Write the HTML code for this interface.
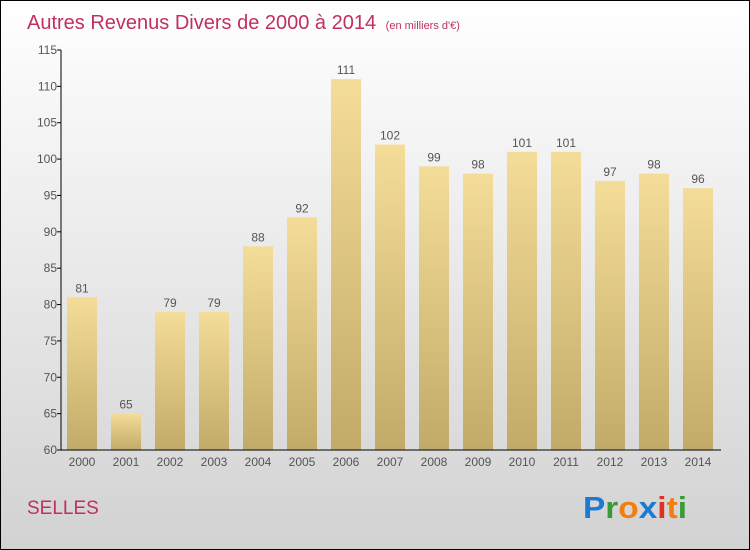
<!DOCTYPE html>
<html><head><meta charset="utf-8"><style>
body{margin:0}
#c{width:750px;height:550px;position:relative;overflow:hidden;font-family:"Liberation Sans",sans-serif}
</style></head><body>
<div id="c">
<svg width="750" height="550" id="svg">
<defs>
<linearGradient id="bg" x1="0" y1="0" x2="0" y2="1"><stop offset="0" stop-color="#ffffff"/><stop offset="1" stop-color="#d2d2d2"/></linearGradient>
<linearGradient id="bar" x1="0" y1="0" x2="0" y2="1"><stop offset="0" stop-color="#f4dd98"/><stop offset="1" stop-color="#c2aa68"/></linearGradient>
</defs>
<rect x="0.5" y="0.5" width="749" height="549" fill="url(#bg)" stroke="#000"/>
<text x="27" y="29" font-size="20" fill="#c0305f">Autres Revenus Divers de 2000 à 2014 <tspan font-size="11" dx="4">(en milliers d'€)</tspan></text>
<text x="27" y="514" font-size="19" fill="#c0305f">SELLES</text>
<g font-size="31" font-weight="bold" font-family="'Liberation Sans',sans-serif">
<text x="583" y="518" textLength="104" lengthAdjust="spacingAndGlyphs"><tspan fill="#1a7ad4">P</tspan><tspan fill="#3a9a3a">r</tspan><tspan fill="#f07e10">o</tspan><tspan fill="#1a7ad4">x</tspan><tspan fill="#e03020">i</tspan><tspan fill="#f07e10">t</tspan><tspan fill="#3a9a3a">i</tspan></text>
</g>
<g id="plot"></g>
</svg>
</div>
<script>
const years=["2000","2001","2002","2003","2004","2005","2006","2007","2008","2009","2010","2011","2012","2013","2014"];
const values=[81,65,79,79,88,92,111,102,99,98,101,101,97,98,96];
const yTicks=[60,65,70,75,80,85,90,95,100,105,110,115];
const NS="http://www.w3.org/2000/svg";
const g=document.getElementById('plot');
const y0=450,y1=50,vmin=60,vmax=115;
function y(v){return y0-(v-vmin)/(vmax-vmin)*(y0-y1);}
function x(i){return 82+i*44;}
function el(t,a,p){const e=document.createElementNS(NS,t);for(const k in a)e.setAttribute(k,a[k]);(p||g).appendChild(e);return e;}
years.forEach((yr,i)=>{
  const r=el('rect',{x:x(i)-15,y:y(values[i]),width:30,height:y0-y(values[i]),fill:'url(#bar)'});
  
  
  const t=el('text',{x:x(i),y:y(values[i])-5,'text-anchor':'middle','font-size':12,fill:'#555'});
  t.textContent=values[i];
  
  
  const xl=el('text',{x:x(i),y:466,'text-anchor':'middle','font-size':12,fill:'#555'});
  xl.textContent=yr;
  
  
});
yTicks.forEach(v=>{
  const l=el('line',{x1:57,x2:61,y1:y(v),y2:y(v),stroke:'#000'});
  
  
  const t=el('text',{x:57,y:y(v)+4,'text-anchor':'end','font-size':12,fill:'#555'});
  t.textContent=v;
  
  
});
const ya=el('line',{x1:61,x2:61,y1:y1,y2:y0,stroke:'#000'});


const xa=el('line',{x1:61,x2:721,y1:y0,y2:y0,stroke:'#000'});


</script>
</body></html>
